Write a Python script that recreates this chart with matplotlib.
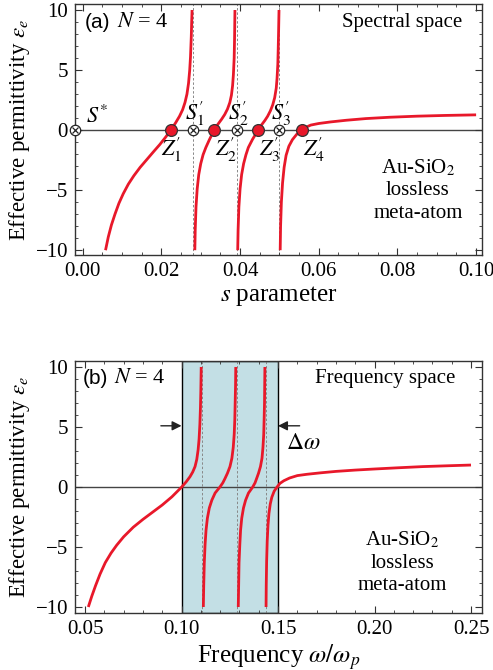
import matplotlib
matplotlib.use("Agg")
import matplotlib.pyplot as plt

plt.rcParams['font.family'] = ['Liberation Serif', 'DejaVu Serif']
plt.rcParams['mathtext.fontset'] = 'stix'

# ---------------- Data: panel (a) spectral space ----------------
a_b1_s = [0.0058, 0.0065, 0.0073, 0.0082, 0.0092, 0.0103, 0.0116, 0.0130, 0.0146, 0.0163,
          0.0180, 0.0196, 0.0210, 0.0224, 0.0236, 0.0246, 0.0254, 0.0260, 0.0265, 0.0269,
          0.0272, 0.0274, 0.0276, 0.0277, 0.0278]
a_b1_e = [-10.0, -8.9, -7.9, -7.0, -6.1, -5.3, -4.5, -3.8, -3.1, -2.45,
          -1.8, -1.2, -0.62, 0.0, 0.6, 1.15, 1.7, 2.3, 3.0, 3.9,
          5.0, 6.1, 7.8, 9.0, 10.0]
a_b2_s = [0.0285, 0.0286, 0.0288, 0.0291, 0.0295, 0.0300, 0.0306, 0.0313, 0.0322, 0.0334,
          0.0344, 0.0353, 0.0361, 0.0368, 0.0374, 0.0378, 0.0381, 0.0383, 0.0385, 0.0386, 0.0387]
a_b2_e = [-10.0, -8.3, -6.4, -4.9, -3.7, -2.8, -2.05, -1.45, -0.8, 0.0,
          0.5, 0.9, 1.3, 1.75, 2.3, 2.9, 3.7, 4.6, 6.0, 7.6, 10.0]
a_b3_s = [0.0394, 0.0395, 0.0397, 0.0400, 0.0404, 0.0409, 0.0415, 0.0421, 0.0432, 0.0446,
          0.0455, 0.0463, 0.0470, 0.0477, 0.0483, 0.0488, 0.0492, 0.0494, 0.0496, 0.0497,
          0.0498, 0.0499]
a_b3_e = [-10.0, -8.3, -6.4, -4.9, -3.7, -2.8, -2.05, -1.45, -0.75, 0.0,
          0.45, 0.8, 1.15, 1.6, 2.1, 2.7, 3.5, 4.3, 5.5, 6.8,
          8.3, 10.0]
a_b4_s = [0.0502, 0.0503, 0.0505, 0.0508, 0.0512, 0.0517, 0.0524, 0.0533, 0.0544, 0.0557,
          0.0568, 0.0580, 0.0600, 0.0630, 0.0670, 0.0720, 0.0780, 0.0850, 0.0920, 0.1000]
a_b4_e = [-10.0, -8.0, -6.0, -4.4, -3.1, -2.1, -1.35, -0.8, -0.35, 0.0,
          0.25, 0.42, 0.55, 0.68, 0.82, 0.96, 1.07, 1.16, 1.22, 1.27]
a_poles = [0.0281, 0.0391, 0.0500]
a_zeros = [0.0224, 0.0334, 0.0446, 0.0557]
a_pole_labels = ["$S_1^{\\prime}$", "$S_2^{\\prime}$", "$S_3^{\\prime}$"]
a_zero_labels = ["$Z_1^{\\prime}$", "$Z_2^{\\prime}$", "$Z_3^{\\prime}$", "$Z_4^{\\prime}$"]

# ---------------- Data: panel (b) frequency space ----------------
b_b1_w = [0.0517, 0.0535, 0.0555, 0.0578, 0.0605, 0.0635, 0.0664, 0.0700, 0.0750, 0.0800,
          0.0850, 0.0900, 0.0950, 0.1001, 0.1025, 0.1044, 0.1058, 0.1070, 0.1079, 0.1086,
          0.1091, 0.1095, 0.1098, 0.1100, 0.1102]
b_b1_e = [-10.0, -9.1, -8.2, -7.25, -6.3, -5.5, -4.85, -4.15, -3.35, -2.7,
          -2.1, -1.5, -0.82, 0.0, 0.45, 0.86, 1.25, 1.7, 2.3, 3.1,
          4.0, 5.2, 6.6, 8.0, 10.0]
b_b2_w = [0.1113, 0.1115, 0.1118, 0.1122, 0.1127, 0.1134, 0.1144, 0.1157, 0.1174, 0.1199,
          0.1214, 0.1225, 0.1238, 0.1251, 0.1261, 0.1268, 0.1273, 0.1276, 0.1278, 0.1280, 0.1281]
b_b2_e = [-10.0, -8.2, -6.3, -4.8, -3.6, -2.6, -1.75, -1.1, -0.5, 0.0,
          0.35, 0.7, 1.15, 1.7, 2.4, 3.3, 4.4, 5.6, 7.0, 8.5, 10.0]
b_b3_w = [0.1294, 0.1296, 0.1298, 0.1302, 0.1306, 0.1312, 0.1321, 0.1332, 0.1347, 0.1369,
          0.1381, 0.1389, 0.1399, 0.1409, 0.1417, 0.1422, 0.1426, 0.1428, 0.1430, 0.1431, 0.1432]
b_b3_e = [-10.0, -8.2, -6.3, -4.8, -3.6, -2.6, -1.75, -1.1, -0.5, 0.0,
          0.35, 0.7, 1.15, 1.7, 2.4, 3.3, 4.4, 5.6, 7.0, 8.5, 10.0]
b_b4_w = [0.1438, 0.1439, 0.1441, 0.1444, 0.1448, 0.1453, 0.1460, 0.1468, 0.1480, 0.1495,
          0.1510, 0.1530, 0.1560, 0.1600, 0.1650, 0.1720, 0.1800, 0.1900, 0.2000, 0.2120,
          0.2250, 0.2380, 0.2500]
b_b4_e = [-10.0, -8.2, -6.2, -4.5, -3.2, -2.2, -1.4, -0.85, -0.35, 0.0,
          0.3, 0.52, 0.75, 0.95, 1.06, 1.18, 1.3, 1.41, 1.5, 1.6,
          1.7, 1.77, 1.83]
b_poles = [0.1108, 0.1288, 0.1436]
b_band = [0.100, 0.150]

x_ticks_a = [0.00, 0.02, 0.04, 0.06, 0.08, 0.10]
x_ticks_b = [0.05, 0.10, 0.15, 0.20, 0.25]
y_ticks = [-10, -5, 0, 5, 10]

RED = '#e8182a'
DPI = 100
fig = plt.figure(figsize=(493 / DPI, 670 / DPI), dpi=DPI)

W, H = 493.0, 670.0
def ax_rect(l, r, t, b):
    return [l / W, 1 - b / H, (r - l) / W, (b - t) / H]

axA = fig.add_axes(ax_rect(75, 482, 4, 255))
axB = fig.add_axes(ax_rect(75, 482, 361, 613))

def style(ax):
    for sp in ax.spines.values():
        sp.set_color('#333333')
        sp.set_linewidth(1.0)
    ax.tick_params(which='both', direction='in', top=True, right=True, colors='#333333',
                   labelcolor='black', labelsize=15, pad=5)
    ax.tick_params(which='major', length=5, width=0.8)
    ax.tick_params(which='minor', length=2.5, width=0.6)
    ax.set_yticks(y_ticks)
    ax.set_yticks(range(-10, 11), minor=True)
    ax.axhline(0, color='#444444', lw=1.0, zorder=1)
    ax.set_ylabel("Effective permittivity $\\varepsilon_e$", fontsize=16.5)

# ---------------- Panel (a) ----------------
style(axA)
axA.set_xlim(-0.00196, 0.1015)
axA.set_ylim(-10.4, 10.5)
axA.set_xticks(x_ticks_a)
axA.set_xticklabels([f"{v:.2f}" for v in x_ticks_a])
axA.set_xticks([i * 0.005 for i in range(0, 21)], minor=True)
for p in a_poles:
    axA.axvline(p, color='#888888', lw=0.7, ls=(0, (2.5, 2)), zorder=1)
for xs, ys in [(a_b1_s, a_b1_e), (a_b2_s, a_b2_e), (a_b3_s, a_b3_e), (a_b4_s, a_b4_e)]:
    axA.plot(xs, ys, color=RED, lw=2.0, zorder=3, solid_capstyle='butt')
# S markers
s_star = [-0.00196]
for xs in (s_star, a_poles):
    axA.plot(xs, [0] * len(xs), ls='none', marker='o', ms=7.5, mfc='white', mec='#222222',
             mew=0.9, zorder=5, clip_on=False)
    axA.plot(xs, [0] * len(xs), ls='none', marker='x', ms=4.2, mec='#222222',
             mew=0.9, zorder=6, clip_on=False)
axA.plot(a_zeros, [0] * len(a_zeros), ls='none', marker='o', ms=8.5, mfc=RED, mec='#333333',
         mew=0.9, zorder=5)
axA.text(0.0008, 0.15, "$S^{*}$", fontsize=16, ha='left', va='bottom')
for p, lab in zip(a_poles, a_pole_labels):
    axA.text(p + 0.0004, 0.15, lab, fontsize=16, ha='center', va='bottom')
for i, (z, lab) in enumerate(zip(a_zeros, a_zero_labels)):
    off = 0.0 if i == 0 else 0.003
    axA.text(z + off, -0.5, lab, fontsize=16, ha='center', va='top')
axA.text(0.0004, 9.0, "(a)", fontsize=15, family='Liberation Sans', ha='left', va='center')
axA.text(0.0088, 9.0, "$N$ = 4", fontsize=16, ha='left', va='center')
axA.text(0.0965, 9.0, "Spectral space", fontsize=15, ha='right', va='center')
axA.text(0.0852, -5.0, "Au-SiO$_2$\nlossless\nmeta-atom", fontsize=15, ha='center',
         va='center', linespacing=1.25)
axA.set_xlabel("$s$ parameter", fontsize=18, labelpad=2)

# ---------------- Panel (b) ----------------
style(axB)
axB.set_xlim(0.0448, 0.2557)
axB.set_ylim(-10.5, 10.5)
axB.set_xticks(x_ticks_b)
axB.set_xticklabels([f"{v:.2f}" for v in x_ticks_b])
axB.set_xticks([0.05 + i * 0.01 for i in range(0, 21)], minor=True)
axB.axvspan(b_band[0], b_band[1], facecolor='#c3dfe5', edgecolor='black', lw=1.0, zorder=0)
for p in b_poles:
    axB.axvline(p, color='#888888', lw=0.7, ls=(0, (2.5, 2)), zorder=1)
for xs, ys in [(b_b1_w, b_b1_e), (b_b2_w, b_b2_e), (b_b3_w, b_b3_e), (b_b4_w, b_b4_e)]:
    axB.plot(xs, ys, color=RED, lw=2.0, zorder=3, solid_capstyle='butt')
axB.annotate("", xy=(b_band[0], 5.1), xytext=(0.0893, 5.1),
             arrowprops=dict(arrowstyle='-|>', color='#222222', lw=1.0, mutation_scale=14,
                             shrinkA=0, shrinkB=0))
axB.annotate("", xy=(b_band[1], 5.1), xytext=(0.1612, 5.1),
             arrowprops=dict(arrowstyle='-|>', color='#222222', lw=1.0, mutation_scale=14,
                             shrinkA=0, shrinkB=0))
axB.text(0.1540, 3.6, "$\\Delta\\omega$", fontsize=17, ha='left', va='center')
axB.text(0.0490, 9.0, "(b)", fontsize=15, family='Liberation Sans', ha='left', va='center')
axB.text(0.0650, 9.0, "$N$ = 4", fontsize=16, ha='left', va='center')
axB.text(0.2420, 9.0, "Frequency space", fontsize=15, ha='right', va='center')
axB.text(0.2145, -6.3, "Au-SiO$_2$\nlossless\nmeta-atom", fontsize=15, ha='center',
         va='center', linespacing=1.25)
axB.set_xlabel("Frequency $\\omega/\\omega_p$", fontsize=18, labelpad=2)

for ax in (axA, axB):
    ax.yaxis.set_label_coords(-0.105, 0.5)

fig.savefig("out.png", dpi=DPI)
